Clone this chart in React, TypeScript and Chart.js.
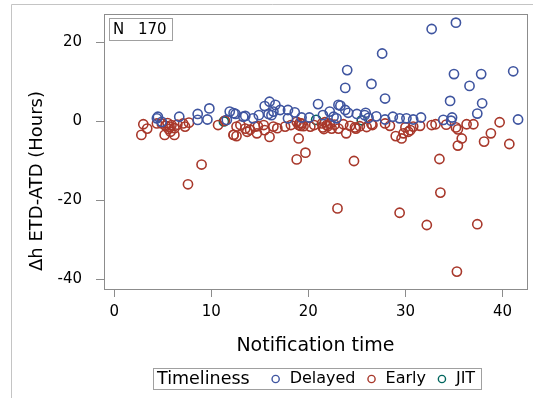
import { useEffect, useRef } from "react";
import { Chart, registerables } from "chart.js";

Chart.register(...registerables);

const FONT = '"DejaVu Sans", Verdana, sans-serif';

const seriesNames = ["Delayed", "Early", "JIT"];
const seriesColors = ["#3F55A0", "#A8382B", "#01665E"];
const legendTitle = "Timeliness";
const xTitle = "Notification time";
const yTitle = "Δh ETD-ATD (Hours)";
const xTickValues = [0, 10, 20, 30, 40];
const yTickValues = [-40, -20, 0, 20];
const sampleCount = 170;

// Delayed departures: notification time (h) and ETD-ATD difference (h)
const delayedTime = [
  35.2, 32.7, 27.6, 24.0, 23.8, 26.5, 35.0, 37.8, 41.1, 36.6, 27.9, 34.6, 37.9, 37.4, 41.6,
  28.7, 27.9, 29.4, 30.1, 31.6, 33.9, 34.8, 34.7, 27.0,
  12.3, 13.5, 14.3, 15.5, 16.0, 16.6, 15.9, 16.2, 16.4, 17.1, 17.9, 17.9, 19.3, 20.1, 21.0,
  21.5, 22.2, 22.6, 23.1, 23.8, 24.1, 25.0, 25.8, 25.9, 23.3, 13.3, 12.5,
  4.5, 4.9, 6.7, 8.6, 8.6, 9.8, 9.6, 11.9, 11.6, 4.4,
  14.9, 18.6, 22.9, 26.2, 30.8,
];
const delayedDelta = [
  24.9, 23.3, 17.1, 12.9, 8.4, 9.4, 11.9, 11.9, 12.6, 8.9, 5.7, 5.1, 4.5, 1.9, 0.4,
  1.1, 0.4, 0.7, 0.7, 0.9, 0.3, 0.9, 0.1, 1.2,
  2.0, 1.3, 0.7, 3.8, 4.9, 4.1, 1.8, 1.5, 2.4, 2.8, 2.8, 0.7, 0.9, 0.9, 4.3,
  1.5, 2.4, 1.1, 4.1, 2.8, 2.1, 1.8, 1.5, 2.1, 3.9, 1.1, 1.8,
  1.1, -0.2, 1.1, 1.8, 0.3, 3.2, 0.4, 2.4, 0.3, 0.7,
  1.5, 2.2, 0.7, 0.8, 0.4,
];

// Early departures
const earlyTime = [
  33.5, 33.6, 35.3, 23.0, 29.4, 32.2, 37.4, 19.0, 19.7, 18.8, 24.7, 9.0, 7.6,
  26.6, 27.9, 30.0, 30.8, 32.7, 33.1, 35.2, 36.3, 37.0, 39.7, 29.0, 29.6, 29.8, 30.3, 30.5,
  35.4, 35.8, 35.4, 38.8, 38.1, 40.7,
  12.6, 13.5, 13.7, 14.5, 14.8, 14.7, 15.4, 15.5, 16.0, 16.4, 17.6, 18.8, 19.0, 19.3, 19.5,
  20.2, 21.4, 21.5, 21.9, 22.2, 22.4, 23.1, 23.6, 23.9, 24.8, 25.3, 26.5, 24.9,
  19.1, 19.2, 21.7, 22.0, 21.6, 12.3,
  3.0, 3.4, 2.8, 4.4, 4.9, 5.3, 5.6, 5.5, 5.9, 6.2, 5.8, 5.2, 6.2, 7.1, 7.3, 7.7,
  10.7, 11.4, 12.3, 12.6,
  5.7, 6.5, 13.0, 14.0, 16.8, 18.2, 20.6, 22.7, 24.3, 26.0, 28.4, 31.5, 34.2,
];
const earlyDelta = [
  -9.6, -18.1, -38.1, -22.1, -23.2, -26.3, -26.1, -4.4, -8.0, -9.7, -10.1, -11.0, -16.0,
  -1.0, -0.6, -1.6, -1.4, -1.0, -0.8, -1.6, -0.8, -0.8, -0.3, -3.8, -4.4, -3.1, -2.7, -2.3,
  -2.1, -4.4, -6.2, -3.1, -5.2, -5.8,
  -1.4, -1.9, -2.7, -1.4, -1.3, -3.1, -1.0, -2.3, -4.0, -1.4, -1.4, -0.2, -1.0, -0.6, -1.3,
  -1.4, -0.6, -1.6, -1.0, -0.6, -1.9, -1.9, -0.8, -3.1, -1.6, -1.3, -0.8, -1.9,
  -0.5, -1.2, -0.3, -1.3, -2.0, -3.5,
  -0.8, -1.9, -3.5, -0.6, -0.6, -1.2, -2.0, -0.5, -1.0, -1.8, -2.7, -3.5, -3.5, -0.6, -1.4, -0.4,
  -1.0, 0.1, -3.5, -3.8,
  -1.4, -0.9, -1.0, -2.2, -1.8, -1.0, -1.0, -0.9, -1.2, -1.5, -1.2, -1.2, -0.9,
];

// Just-in-time departures
const jitTime = [11.3, 20.8, 25.5];
const jitDelta = [-0.1, 0.3, 0.2];

const toPoints = (xs: number[], ys: number[]) => xs.map((x, i) => ({ x, y: ys[i] }));

const panelPlugin = {
  id: "panel",
  beforeDraw(chart: any) {
    const { ctx, width, height } = chart;
    ctx.save();
    ctx.fillStyle = "#ffffff";
    ctx.fillRect(0, 0, width, height);
    ctx.strokeStyle = "#c4c4c4";
    ctx.lineWidth = 1;
    ctx.beginPath();
    ctx.moveTo(11.5, height);
    ctx.lineTo(11.5, 4.5);
    ctx.lineTo(width, 4.5);
    ctx.stroke();
    ctx.restore();
  },
  afterDraw(chart: any) {
    const { ctx, chartArea } = chart;
    const { left, top, right, bottom } = chartArea;
    ctx.save();
    // plot frame
    ctx.strokeStyle = "#8c8c8c";
    ctx.lineWidth = 1;
    ctx.strokeRect(Math.round(left) + 0.5, Math.round(top) + 0.5, Math.round(right - left), Math.round(bottom - top));

    // vertical axis title
    ctx.fillStyle = "#000";
    ctx.font = `18px ${FONT}`;
    ctx.textAlign = "center";
    ctx.textBaseline = "middle";
    ctx.save();
    ctx.translate(37, 181);
    ctx.rotate(-Math.PI / 2);
    ctx.fillText(yTitle, 0, 0);
    ctx.restore();

    // sample size inset
    ctx.strokeStyle = "#a0a0a0";
    ctx.strokeRect(Math.round(left) + 5.5, Math.round(top) + 4.5, 63, 22);
    ctx.fillStyle = "#000";
    ctx.font = `15px ${FONT}`;
    ctx.textAlign = "left";
    ctx.fillText("N", left + 9, top + 16);
    ctx.fillText(String(sampleCount), left + 34, top + 16);

    // legend
    const lgY = 379;
    const startX = 153.5;
    let x = 157;
    const titleFont = `17.5px ${FONT}`;
    const itemFont = `16px ${FONT}`;
    const pieces: Array<() => void> = [];
    const titleX = x;
    ctx.font = titleFont;
    x += ctx.measureText(legendTitle).width;
    pieces.push(() => {
      ctx.font = titleFont;
      ctx.fillStyle = "#000";
      ctx.fillText(legendTitle, titleX, lgY);
    });
    ctx.font = itemFont;
    seriesNames.forEach((name, i) => {
      x += i === 0 ? 26 : 16;
      const mx = x;
      pieces.push(() => {
        ctx.beginPath();
        ctx.strokeStyle = seriesColors[i];
        ctx.lineWidth = 1.4;
        ctx.arc(mx, lgY, 3.6, 0, Math.PI * 2);
        ctx.stroke();
      });
      x += 14;
      const tx = x;
      pieces.push(() => {
        ctx.font = itemFont;
        ctx.fillStyle = "#000";
        ctx.fillText(name, tx, lgY);
      });
      x += ctx.measureText(name).width;
    });
    const endX = x + 6;
    ctx.strokeStyle = "#a0a0a0";
    ctx.lineWidth = 1;
    ctx.strokeRect(startX, 368.5, Math.round(endX - startX), 21);
    pieces.forEach((p) => p());
    ctx.restore();
  },
};

export default function App() {
  const canvasRef = useRef<HTMLCanvasElement | null>(null);

  useEffect(() => {
    document.body.style.margin = "0";
    const canvas = canvasRef.current;
    if (!canvas) return;
    const series = [
      toPoints(delayedTime, delayedDelta),
      toPoints(earlyTime, earlyDelta),
      toPoints(jitTime, jitDelta),
    ];
    const chart = new Chart(canvas, {
      type: "scatter",
      data: {
        datasets: seriesNames.map((name, i) => ({
          label: name,
          data: series[i],
          pointStyle: "circle",
          pointRadius: 4.6,
          pointBorderWidth: 1.6,
          borderColor: seriesColors[i],
          backgroundColor: "rgba(0,0,0,0)",
        })),
      },
      options: {
        animation: false,
        responsive: false,
        devicePixelRatio: 1,
        layout: { padding: { top: 14, right: 5, left: 0, bottom: 0 } },
        plugins: {
          legend: { display: false },
          tooltip: { enabled: false },
        },
        scales: {
          x: {
            type: "linear",
            min: -1.05,
            max: 42.5,
            afterBuildTicks: (axis: any) => {
              axis.ticks = xTickValues.map((value) => ({ value }));
            },
            afterFit: (axis: any) => {
              axis.height = 109;
              axis.paddingLeft = 0;
              axis.paddingRight = 0;
            },
            border: { display: false },
            grid: { drawOnChartArea: false, drawTicks: true, tickLength: 8, color: "#8c8c8c" },
            ticks: { font: { family: FONT, size: 15 }, color: "#000", padding: 6, maxRotation: 0 },
            title: {
              display: true,
              text: xTitle,
              color: "#000",
              font: { family: FONT, size: 19 },
              padding: { top: 0, bottom: 41 },
            },
          },
          y: {
            type: "linear",
            min: -42.5,
            max: 27.1,
            afterBuildTicks: (axis: any) => {
              axis.ticks = yTickValues.map((value) => ({ value }));
            },
            afterFit: (axis: any) => {
              axis.width = 104;
              axis.paddingTop = 0;
              axis.paddingBottom = 0;
            },
            border: { display: false },
            grid: { drawOnChartArea: false, drawTicks: true, tickLength: 8, color: "#8c8c8c" },
            ticks: { font: { family: FONT, size: 15 }, color: "#000", padding: 14 },
          },
        },
      },
      plugins: [panelPlugin],
    });
    return () => chart.destroy();
  }, []);

  return (
    <div style={{ position: "relative", width: 533, height: 398 }}>
      <canvas ref={canvasRef} width={533} height={398} style={{ display: "block" }} />
    </div>
  );
}
